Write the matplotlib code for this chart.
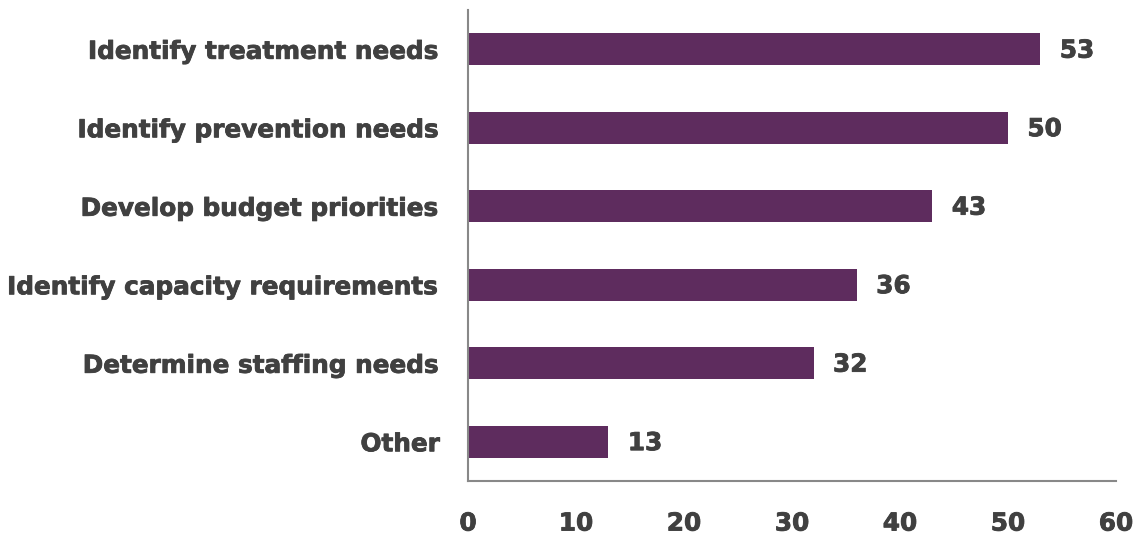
import matplotlib
matplotlib.use("Agg")
import matplotlib.pyplot as plt
import matplotlib.patheffects as pe

categories = [
    "Identify treatment needs",
    "Identify prevention needs",
    "Develop budget priorities",
    "Identify capacity requirements",
    "Determine staffing needs",
    "Other",
]
values = [53, 50, 43, 36, 32, 13]
xticks = [0, 10, 20, 30, 40, 50, 60]

plt.rcParams["font.family"] = ["DejaVu Sans"]
plt.rcParams["font.weight"] = "bold"

text_color = "#404040"
bar_color = "#5e2c5e"
fs = 17.8
heavy = [pe.withStroke(linewidth=0.6, foreground=text_color)]

fig = plt.figure(figsize=(11.34, 5.36), dpi=100)
ax = fig.add_axes([0.4127, 0.1026, 0.5714, 0.8787])

y = list(range(len(categories)))
ax.barh(y, values, height=0.41, color=bar_color)
ax.set_ylim(len(categories) - 0.5, -0.5)
ax.set_xlim(0, 60)

for yi, v in zip(y, values):
    ax.annotate(str(v), (v, yi), xytext=(14, -1), textcoords="offset points",
                va="center", ha="left", fontsize=fs, fontweight="bold",
                color=text_color, path_effects=heavy)

ax.set_yticks(y)
ax.set_yticklabels(categories, fontsize=fs, fontweight="bold", color=text_color)
ax.set_xticks(xticks)
ax.set_xticklabels([str(t) for t in xticks], fontsize=fs, fontweight="bold",
                   color=text_color)
for lbl in ax.get_xticklabels() + ax.get_yticklabels():
    lbl.set_path_effects(heavy)
ax.tick_params(axis="both", length=0)
ax.tick_params(axis="x", pad=22)
ax.tick_params(axis="y", pad=20)

for s in ["top", "right"]:
    ax.spines[s].set_visible(False)
for s in ["left", "bottom"]:
    ax.spines[s].set_color("#888888")
    ax.spines[s].set_linewidth(1.5)

fig.savefig("out.png", dpi=100)
